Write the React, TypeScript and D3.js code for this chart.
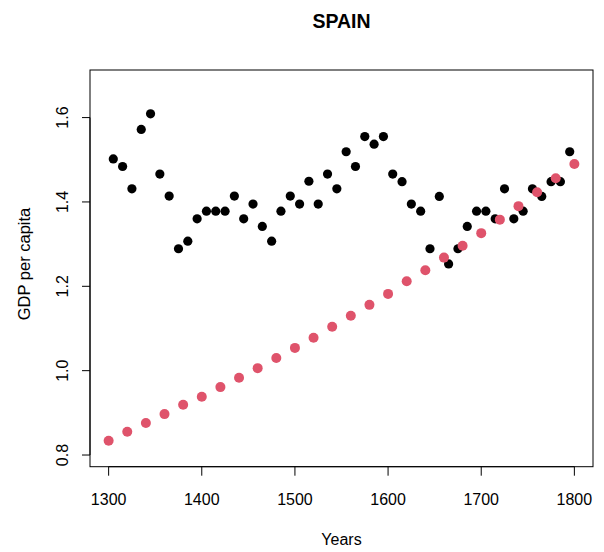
import React from "react";
import * as d3 from "d3";

const blackYears = [1305,1315,1325,1335,1345,1355,1365,1375,1385,1395,1405,1415,1425,1435,1445,1455,1465,1475,1485,1495,1505,1515,1525,1535,1545,1555,1565,1575,1585,1595,1605,1615,1625,1635,1645,1655,1665,1675,1685,1695,1705,1715,1725,1735,1745,1755,1765,1775,1785,1795];
const blackValues = [1.502,1.484,1.431,1.572,1.609,1.466,1.414,1.289,1.307,1.360,1.378,1.378,1.378,1.414,1.360,1.395,1.342,1.307,1.378,1.414,1.395,1.449,1.395,1.466,1.431,1.519,1.484,1.555,1.537,1.555,1.466,1.448,1.395,1.378,1.289,1.413,1.253,1.289,1.342,1.378,1.378,1.360,1.431,1.360,1.378,1.431,1.413,1.448,1.448,1.519];
const redYears = [1300,1320,1340,1360,1380,1400,1420,1440,1460,1480,1500,1520,1540,1560,1580,1600,1620,1640,1660,1680,1700,1720,1740,1760,1780,1800];
const redValues = [0.834,0.855,0.876,0.897,0.919,0.938,0.961,0.983,1.006,1.030,1.054,1.078,1.104,1.130,1.156,1.182,1.212,1.238,1.268,1.296,1.326,1.358,1.390,1.423,1.456,1.490];
const xTicks = [1300,1400,1500,1600,1700,1800];
const yTicks = [0.8,1.0,1.2,1.4,1.6];
const title = "SPAIN";
const xLabel = "Years";
const yLabel = "GDP per capita";

export default function App() {
  const W = 604, H = 552;
  const left = 90, right = 593, top = 70, bottom = 466.7;
  const x = d3.scaleLinear().domain([1280, 1820]).range([left, right]);
  const y = d3.scaleLinear().domain([0.7723, 1.7128]).range([bottom, top]);
  const font = "Liberation Sans, Arial, Helvetica, sans-serif";
  return (
    <svg width={W} height={H} style={{ position: "absolute", left: 0, top: 0 }} fontFamily={font}>
      <rect x={0} y={0} width={W} height={H} fill="#fff" />
      <text x={(left + right) / 2} y={28} textAnchor="middle" fontWeight="bold" fontSize={19.5}>{title}</text>
      <rect x={left} y={top} width={right - left} height={bottom - top} fill="none" stroke="#000" strokeWidth={1} />
      <line x1={x(xTicks[0])} x2={x(xTicks[xTicks.length - 1])} y1={bottom} y2={bottom} stroke="#000" />
      {xTicks.map((t) => (
        <g key={t}>
          <line x1={x(t)} x2={x(t)} y1={bottom} y2={bottom + 9} stroke="#000" />
          <text x={x(t)} y={505} textAnchor="middle" fontSize={16}>{t}</text>
        </g>
      ))}
      <line x1={left} x2={left} y1={y(yTicks[0])} y2={y(yTicks[yTicks.length - 1])} stroke="#000" />
      {yTicks.map((t) => (
        <g key={t}>
          <line x1={left - 8} x2={left} y1={y(t)} y2={y(t)} stroke="#000" />
          <text transform={`translate(68,${y(t)}) rotate(-90)`} textAnchor="middle" fontSize={16}>{t.toFixed(1)}</text>
        </g>
      ))}
      <text x={(left + right) / 2} y={545} textAnchor="middle" fontSize={16}>{xLabel}</text>
      <text transform={`translate(30,264) rotate(-90)`} textAnchor="middle" fontSize={16.5}>{yLabel}</text>
      {blackYears.map((yr, i) => (
        <circle key={"b" + i} cx={x(yr)} cy={y(blackValues[i])} r={4.6} fill="#000" />
      ))}
      {redYears.map((yr, i) => (
        <circle key={"r" + i} cx={x(yr)} cy={y(redValues[i])} r={5} fill="#DF536B" />
      ))}
    </svg>
  );
}
